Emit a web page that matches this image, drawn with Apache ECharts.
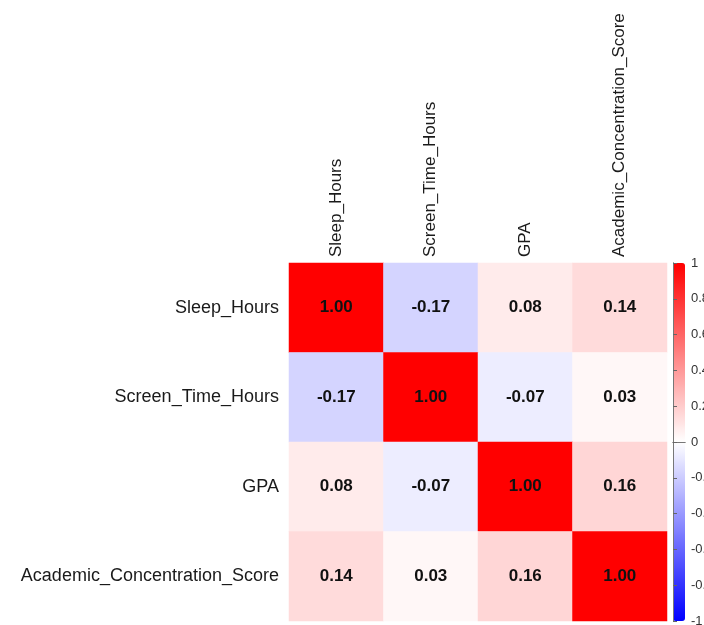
<!DOCTYPE html>
<html>
<head>
<meta charset="utf-8">
<script src="https://cdn.jsdelivr.net/npm/echarts@6/dist/echarts.min.js"></script>
<style>
  html, body { margin: 0; padding: 0; background: #fff; }
  #chart { width: 704px; height: 625px; }
</style>
</head>
<body>
<div id="chart"></div>
<script>
// variables of the correlation matrix
var labels = ['Sleep_Hours', 'Screen_Time_Hours', 'GPA', 'Academic_Concentration_Score']
// one row per variable, same order as labels
var rowSleep = [1.00, -0.17, 0.08, 0.14]
var rowScreen = [-0.17, 1.00, -0.07, 0.03]
var rowGpa = [0.08, -0.07, 1.00, 0.16]
var rowAcademic = [0.14, 0.03, 0.16, 1.00]
var colorbarTicks = [-1, -0.8, -0.6, -0.4, -0.2, 0, 0.2, 0.4, 0.6, 0.8, 1]

var rows = [rowSleep, rowScreen, rowGpa, rowAcademic]
var cells = []
rows.forEach(function (row, y) {
  row.forEach(function (v, x) {
    cells.push([x, y, v])
  })
})

// plain frame line for the colorbar box
var frame = { show: true, lineStyle: { color: '#777', width: 1 } }

var chart = echarts.init(document.getElementById('chart'))
var option = {
  animation: false,
  textStyle: { fontFamily: 'Liberation Sans, Arial, sans-serif' },
  grid: [
    { left: 289, top: 263, width: 378, height: 358, outerBoundsMode: 'none' },
    // thin grid just to carry the colorbar ticks, labels and frame
    { left: 673, top: 263, width: 12, height: 358, outerBoundsMode: 'none' }
  ],
  xAxis: [
    {
      type: 'category',
      data: labels,
      position: 'top',
      axisLine: { show: false },
      axisTick: { show: false },
      splitLine: { show: false },
      axisLabel: {
        rotate: -90,
        interval: 0,
        margin: 6,
        fontSize: 17,
        color: '#1a1a1a'
      }
    },
    { type: 'value', gridIndex: 1, min: 0, max: 1, position: 'top', z: 10,
      axisLine: frame, axisTick: { show: false }, axisLabel: { show: false }, splitLine: { show: false } },
    { type: 'value', gridIndex: 1, min: 0, max: 1, position: 'bottom', z: 10,
      axisLine: frame, axisTick: { show: false }, axisLabel: { show: false }, splitLine: { show: false } }
  ],
  yAxis: [
    {
      type: 'category',
      data: labels,
      inverse: true,
      axisLine: { show: false },
      axisTick: { show: false },
      splitLine: { show: false },
      axisLabel: {
        interval: 0,
        margin: 10,
        fontSize: 18,
        color: '#1a1a1a'
      }
    },
    {
      type: 'value',
      gridIndex: 1,
      position: 'right',
      min: -1,
      max: 1,
      interval: 0.2,
      z: 10,
      axisLine: frame,
      axisTick: { show: true, length: 4, lineStyle: { color: '#666' } },
      splitLine: { show: false },
      axisLabel: {
        margin: 6,
        fontSize: 13,
        color: '#333',
        formatter: function (v) {
          var r = Math.round(v * 10) / 10
          return colorbarTicks.indexOf(r) >= 0 ? String(r) : ''
        }
      }
    },
    { type: 'value', gridIndex: 1, min: -1, max: 1, position: 'left', z: 10,
      axisLine: frame, axisTick: { show: false }, axisLabel: { show: false }, splitLine: { show: false } }
  ],
  visualMap: {
    type: 'continuous',
    min: -1,
    max: 1,
    calculable: false,
    orient: 'vertical',
    left: 673,
    top: 263,
    itemWidth: 12,
    itemHeight: 358,
    padding: 0,
    seriesIndex: 0,
    inRange: { color: ['#0000ff', '#ffffff', '#ff0000'] }
  },
  series: [
    {
      type: 'heatmap',
      data: cells,
      label: {
        show: true,
        fontSize: 17,
        fontWeight: 'bold',
        color: '#111',
        formatter: function (p) { return p.value[2].toFixed(2) }
      },
      itemStyle: { borderWidth: 0 }
    },
    {
      type: 'scatter',
      xAxisIndex: 1,
      yAxisIndex: 1,
      data: [],
      silent: true
    }
  ]
}
chart.setOption(option)
</script>
</body>
</html>
